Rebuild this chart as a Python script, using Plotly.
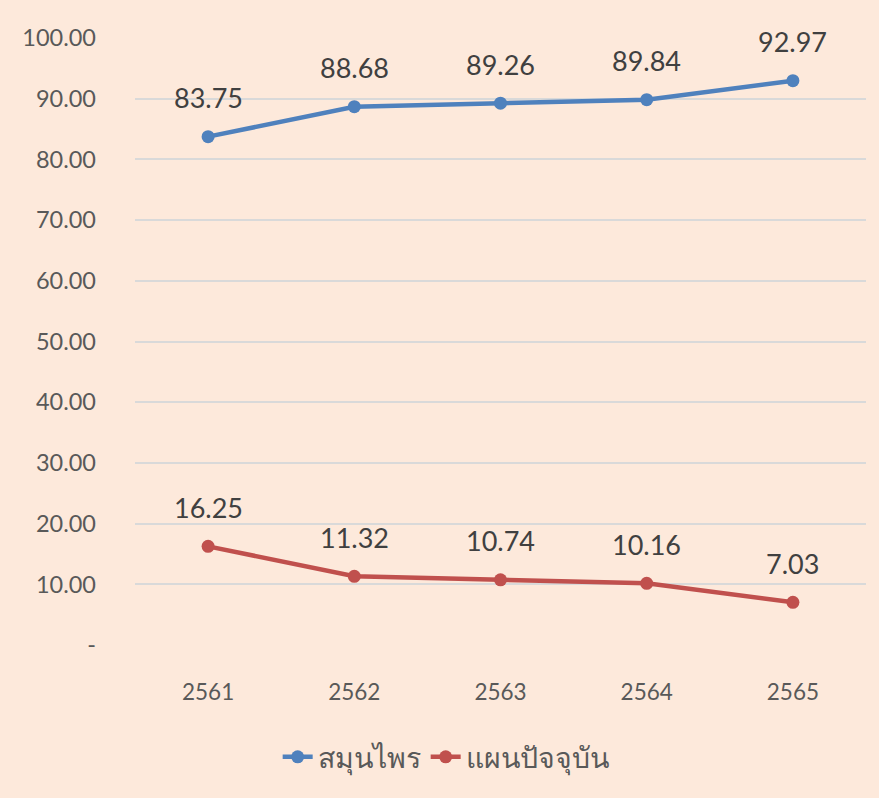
import plotly.graph_objects as go

years = ["2561", "2562", "2563", "2564", "2565"]
herbal = [83.75, 88.68, 89.26, 89.84, 92.97]
modern = [16.25, 11.32, 10.74, 10.16, 7.03]
series_names = ["สมุนไพร", "แผนปัจจุบัน"]
tick_vals = [0, 10, 20, 30, 40, 50, 60, 70, 80, 90, 100]
tick_text = ["-", "10.00", "20.00", "30.00", "40.00", "50.00", "60.00", "70.00", "80.00", "90.00", "100.00"]

BLUE = "#4F81BD"
RED = "#C0504D"
BG = "#FDE9DB"
FONT = "Lato, Noto Sans, sans-serif"

fig = go.Figure()
for name, vals, col in [(series_names[0], herbal, BLUE), (series_names[1], modern, RED)]:
    fig.add_trace(go.Scatter(
        x=years, y=vals, name=name, mode="lines+markers",
        line=dict(color=col, width=4.5),
        marker=dict(color=col, size=13),
    ))
    for i, v in enumerate(vals):
        fig.add_annotation(x=i, y=v, xref="x", yref="y", text=f"{v:.2f}", showarrow=False,
                           yshift=39, font=dict(family=FONT, size=27, color="#404040"))

fig.update_layout(
    width=879, height=798,
    paper_bgcolor=BG, plot_bgcolor=BG,
    margin=dict(l=135, r=13, t=38, b=153),
    font=dict(family=FONT, color="#595959"),
    showlegend=True,
    legend=dict(orientation="h", x=0.425, xanchor="center", y=-0.185, yanchor="middle",
                font=dict(size=28.5, color="#595959"),
                bgcolor="rgba(0,0,0,0)"),
)
fig.update_xaxes(type="category", showgrid=False, zeroline=False, showline=False,
                 ticks="", tickfont=dict(size=22.5, color="#595959"),
                 ticklabelstandoff=31, range=[-0.5, 4.5])
fig.update_yaxes(range=[0, 100], tickvals=tick_vals, ticktext=tick_text,
                 showgrid=True, gridcolor="#D9D9D9", gridwidth=1.5,
                 zeroline=False, showline=False, ticks="",
                 tickfont=dict(size=23.5, color="#595959"),
                 ticklabelstandoff=38)

fig.write_html("out.html", config={"displayModeBar": False},
               post_script="document.body.style.margin='0';")
